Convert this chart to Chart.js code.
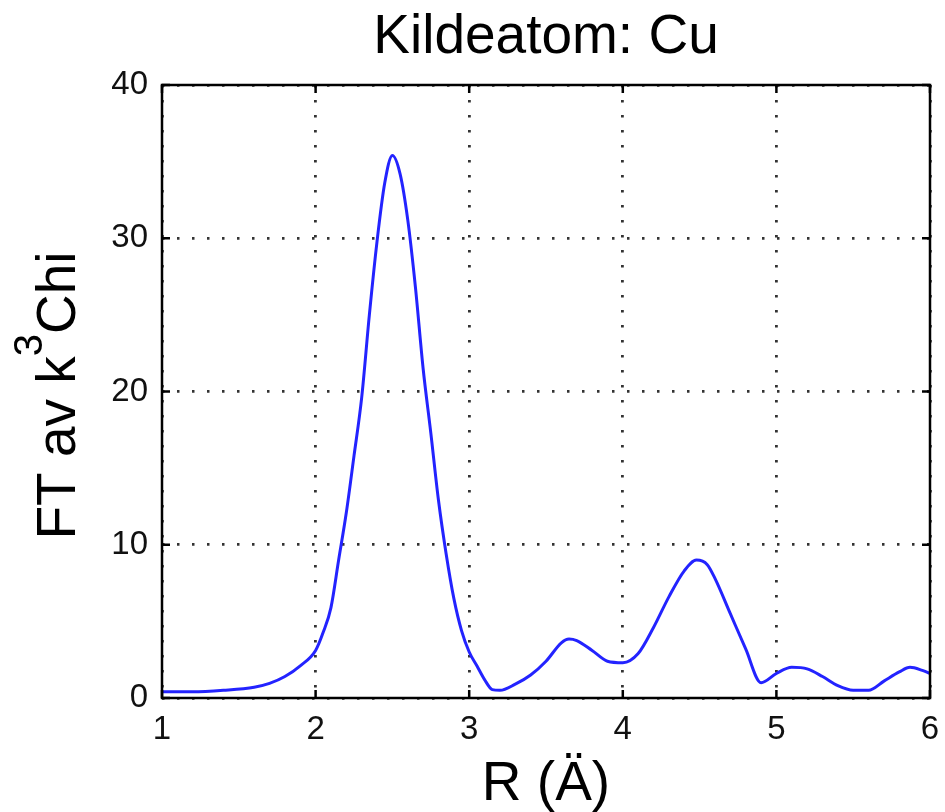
<!DOCTYPE html>
<html>
<head>
<meta charset="utf-8">
<script src="https://cdn.jsdelivr.net/npm/chart.js@4/dist/chart.umd.min.js"></script>
<style>
  html, body { margin: 0; padding: 0; background: #fff; }
</style>
</head>
<body>
<canvas id="chart" width="945" height="812"></canvas>
<script>
/* values */
const rValues = [1.0, 1.2, 1.4, 1.6, 1.7, 1.8, 1.9, 2.0, 2.05, 2.1, 2.15, 2.2, 2.25, 2.3, 2.35, 2.4, 2.45, 2.5,
  2.55, 2.6, 2.65, 2.7, 2.75, 2.8, 2.85, 2.9, 2.95, 3.0, 3.05, 3.1, 3.15, 3.2, 3.3, 3.4, 3.5, 3.6, 3.65, 3.7,
  3.8, 3.9, 4.0, 4.1, 4.2, 4.3, 4.4, 4.48, 4.55, 4.6, 4.7, 4.8, 4.9, 5.0, 5.1, 5.2, 5.3, 5.4, 5.5, 5.6, 5.7,
  5.8, 5.87, 5.95, 6.0];
const ftValues = [0.4, 0.4, 0.5, 0.7, 0.95, 1.4, 2.1, 3.1, 4.3, 5.9, 9.0, 12.1, 15.8, 19.6, 25.0, 29.8, 33.6, 35.4,
  34.2, 31.2, 26.8, 21.5, 17.3, 12.9, 9.4, 6.5, 4.4, 3.0, 2.1, 1.2, 0.55, 0.5, 0.9, 1.5, 2.4, 3.6, 3.85, 3.75,
  3.1, 2.4, 2.3, 2.9, 4.6, 6.6, 8.3, 9.0, 8.7, 7.8, 5.5, 3.2, 1.0, 1.6, 2.0, 1.9, 1.4, 0.8, 0.5, 0.5, 1.1,
  1.7, 2.0, 1.8, 1.6];
const xTicks = [1, 2, 3, 4, 5, 6];
const yTicks = [0, 10, 20, 30, 40];
const chartTitle = 'Kildeatom: Cu';
const xLabel = 'R (Ä)';
const yLabelParts = ['FT av k', '3', 'Chi'];

const FONT = "'Liberation Sans', Arial, Helvetica, sans-serif";

/* title, axis labels, box and inward ticks */
const frame = {
  id: 'frame',
  afterDraw(chart) {
    const { ctx, chartArea: a, scales } = chart;
    ctx.save();
    ctx.fillStyle = '#000';

    ctx.font = '55px ' + FONT;
    ctx.textAlign = 'center';
    ctx.textBaseline = 'alphabetic';
    ctx.fillText(chartTitle, (a.left + a.right) / 2, 53);
    ctx.fillText(xLabel, (a.left + a.right) / 2, 800);

    // y label with superscript
    ctx.translate(75, (a.top + a.bottom) / 2 + 4);
    ctx.rotate(-Math.PI / 2);
    ctx.textAlign = 'left';
    ctx.font = '55px ' + FONT;
    const w0 = ctx.measureText(yLabelParts[0]).width;
    const w2 = ctx.measureText(yLabelParts[2]).width;
    ctx.font = '40px ' + FONT;
    const w1 = ctx.measureText(yLabelParts[1]).width;
    let x = -(w0 + w1 + w2) / 2;
    ctx.font = '55px ' + FONT;
    ctx.fillText(yLabelParts[0], x, 0);
    x += w0;
    ctx.font = '40px ' + FONT;
    ctx.fillText(yLabelParts[1], x, -33);
    x += w1;
    ctx.font = '55px ' + FONT;
    ctx.fillText(yLabelParts[2], x, 0);
    ctx.restore();

    ctx.save();
    ctx.strokeStyle = '#000';
    ctx.lineWidth = 2.5;
    const tl = 8;
    ctx.beginPath();
    xTicks.forEach(v => {
      const px = scales.x.getPixelForValue(v);
      ctx.moveTo(px, a.bottom); ctx.lineTo(px, a.bottom - tl);
      ctx.moveTo(px, a.top); ctx.lineTo(px, a.top + tl);
    });
    yTicks.forEach(v => {
      const py = scales.y.getPixelForValue(v);
      ctx.moveTo(a.left, py); ctx.lineTo(a.left + tl, py);
      ctx.moveTo(a.right, py); ctx.lineTo(a.right - tl, py);
    });
    ctx.stroke();
    ctx.strokeRect(a.left, a.top, a.right - a.left, a.bottom - a.top);
    ctx.restore();
  }
};

const gridStyle = {
  color: '#333',
  lineWidth: 2.8,
  drawTicks: false
};

new Chart(document.getElementById('chart'), {
  type: 'scatter',
  data: {
    datasets: [{
      data: rValues.map((r, i) => ({ x: r, y: ftValues[i] })),
      showLine: true,
      borderColor: 'rgb(35, 35, 255)',
      borderWidth: 3,
      pointRadius: 0,
      cubicInterpolationMode: 'monotone',
      fill: false
    }]
  },
  options: {
    responsive: false,
    animation: false,
    layout: { padding: { left: 102, right: 15, top: 85, bottom: 0 } },
    plugins: {
      legend: { display: false },
      tooltip: { enabled: false }
    },
    scales: {
      x: {
        type: 'linear',
        min: 1,
        max: 6,
        afterBuildTicks: (s) => { s.ticks = xTicks.map(v => ({ value: v })); },
        afterFit: (s) => { s.height = 114; s.paddingLeft = 0; s.paddingRight = 0; },
        grid: gridStyle,
        border: { display: false, dash: [2.5, 12.5] },
        ticks: { color: '#111', font: { family: FONT, size: 33 }, padding: 12 }
      },
      y: {
        min: 0,
        max: 40,
        afterBuildTicks: (s) => { s.ticks = yTicks.map(v => ({ value: v })); },
        afterFit: (s) => { s.width = 60; s.paddingTop = 0; s.paddingBottom = 0; },
        grid: gridStyle,
        border: { display: false, dash: [2.5, 12.5] },
        ticks: { color: '#111', font: { family: FONT, size: 33 }, padding: 14 }
      }
    }
  },
  plugins: [frame]
});
</script>
</body>
</html>
